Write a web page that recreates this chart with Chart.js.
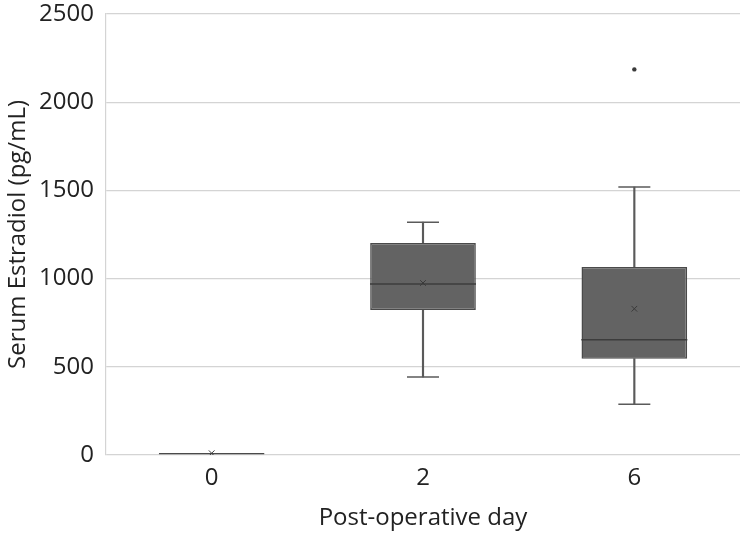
<!DOCTYPE html>
<html>
<head>
<meta charset="utf-8">
<script src="https://cdn.jsdelivr.net/npm/chart.js@4"></script>
<style>
html,body{margin:0;padding:0;background:#fff;}
#wrap{width:750px;height:537px;}
</style>
</head>
<body>
<div id="wrap"><canvas id="c" width="750" height="537"></canvas></div>
<script>
const categories = ['0', '2', '6'];
const whiskerMin = [0, 442, 287];
const q1 = [0, 822, 546];
const median = [5, 969, 654];
const q3 = [12, 1202, 1066];
const whiskerMax = [12, 1320, 1519];
const means = [10, 975, 829];
const outliers = [null, null, 2186];
const yTicks = [0, 500, 1000, 1500, 2000, 2500];

const FONT = 'Open Sans';
const boxFill = '#636363';
const boxBorder = '#4a4a4a';
const lineCol = '#5a5a5a';

const boxData = categories.map((c, i) => [q1[i], q3[i]]);
const upperWhisker = categories.map((c, i) => q3[i] < whiskerMax[i] ? [q3[i], whiskerMax[i]] : null);
const lowerWhisker = categories.map((c, i) => q1[i] > whiskerMin[i] ? [whiskerMin[i], q1[i]] : null);
const capsMax = categories.map((c, i) => whiskerMax[i] > q3[i] ? whiskerMax[i] : null);
const capsMin = categories.map((c, i) => whiskerMin[i] < q1[i] ? whiskerMin[i] : null);
const medianData = categories.map((c, i) => i === 0 ? null : median[i]);

new Chart(document.getElementById('c'), {
  type: 'bar',
  data: {
    labels: categories,
    datasets: [
      { type: 'bar', data: upperWhisker, grouped: false, barThickness: 1.5, backgroundColor: lineCol, borderWidth: 0, order: 5 },
      { type: 'bar', data: lowerWhisker, grouped: false, barThickness: 1.5, backgroundColor: lineCol, borderWidth: 0, order: 5 },
      { type: 'bar', data: boxData, grouped: false, barPercentage: 0.5, categoryPercentage: 1.0,
        backgroundColor: boxFill, borderColor: boxBorder, borderWidth: 1.5, borderSkipped: false, order: 4 },
      { type: 'line', data: capsMax, showLine: false, pointStyle: 'line', pointRadius: 16, pointBorderWidth: 1.5,
        pointBorderColor: lineCol, order: 3 },
      { type: 'line', data: capsMin, showLine: false, pointStyle: 'line', pointRadius: 16, pointBorderWidth: 1.5,
        pointBorderColor: lineCol, order: 3 },
      { type: 'line', data: medianData, showLine: false, pointStyle: 'line', pointRadius: 53, pointBorderWidth: 1.5,
        pointBorderColor: '#3c3c3c', order: 2 },
      { type: 'line', data: means, showLine: false, pointStyle: 'crossRot', pointRadius: 4, pointBorderWidth: 1,
        pointBorderColor: '#3a3a3a', order: 1 },
      { type: 'line', data: outliers, showLine: false, pointStyle: 'circle', pointRadius: 2.2, pointBorderWidth: 0,
        pointBackgroundColor: '#3a3a3a', order: 1 }
    ]
  },
  options: {
    responsive: false,
    animation: false,
    devicePixelRatio: 1,
    layout: { autoPadding: false, padding: { top: 14, right: 10, left: 0, bottom: 0 } },
    plugins: { legend: { display: false }, tooltip: { enabled: false } },
    scales: {
      x: {
        grid: { display: false, drawTicks: false },
        border: { display: false },
        ticks: { color: '#222', font: { family: FONT, size: 24 }, padding: 9 },
        title: { display: true, text: 'Post-operative day', color: '#222', font: { family: FONT, size: 24 }, padding: { top: 4 } },
        afterFit: (s) => { s.height = 82; s.paddingLeft = 0; s.paddingRight = 0; }
      },
      y: {
        min: 0, max: 2500,
        afterBuildTicks: (s) => { s.ticks = yTicks.map(v => ({ value: v })); },
        grid: { color: '#d4d4d4', lineWidth: 1.2, drawTicks: false },
        border: { display: true, color: '#d4d4d4', width: 1.2 },
        ticks: { color: '#222', font: { family: FONT, size: 24 }, padding: 12, callback: (v) => String(v) },
        title: { display: true, text: 'Serum Estradiol (pg/mL)', color: '#222', font: { family: FONT, size: 24 }, padding: { bottom: 2 } },
        afterFit: (s) => { s.width = 106; s.paddingTop = 0; s.paddingBottom = 0; }
      }
    }
  }
});
</script>
</body>
</html>
